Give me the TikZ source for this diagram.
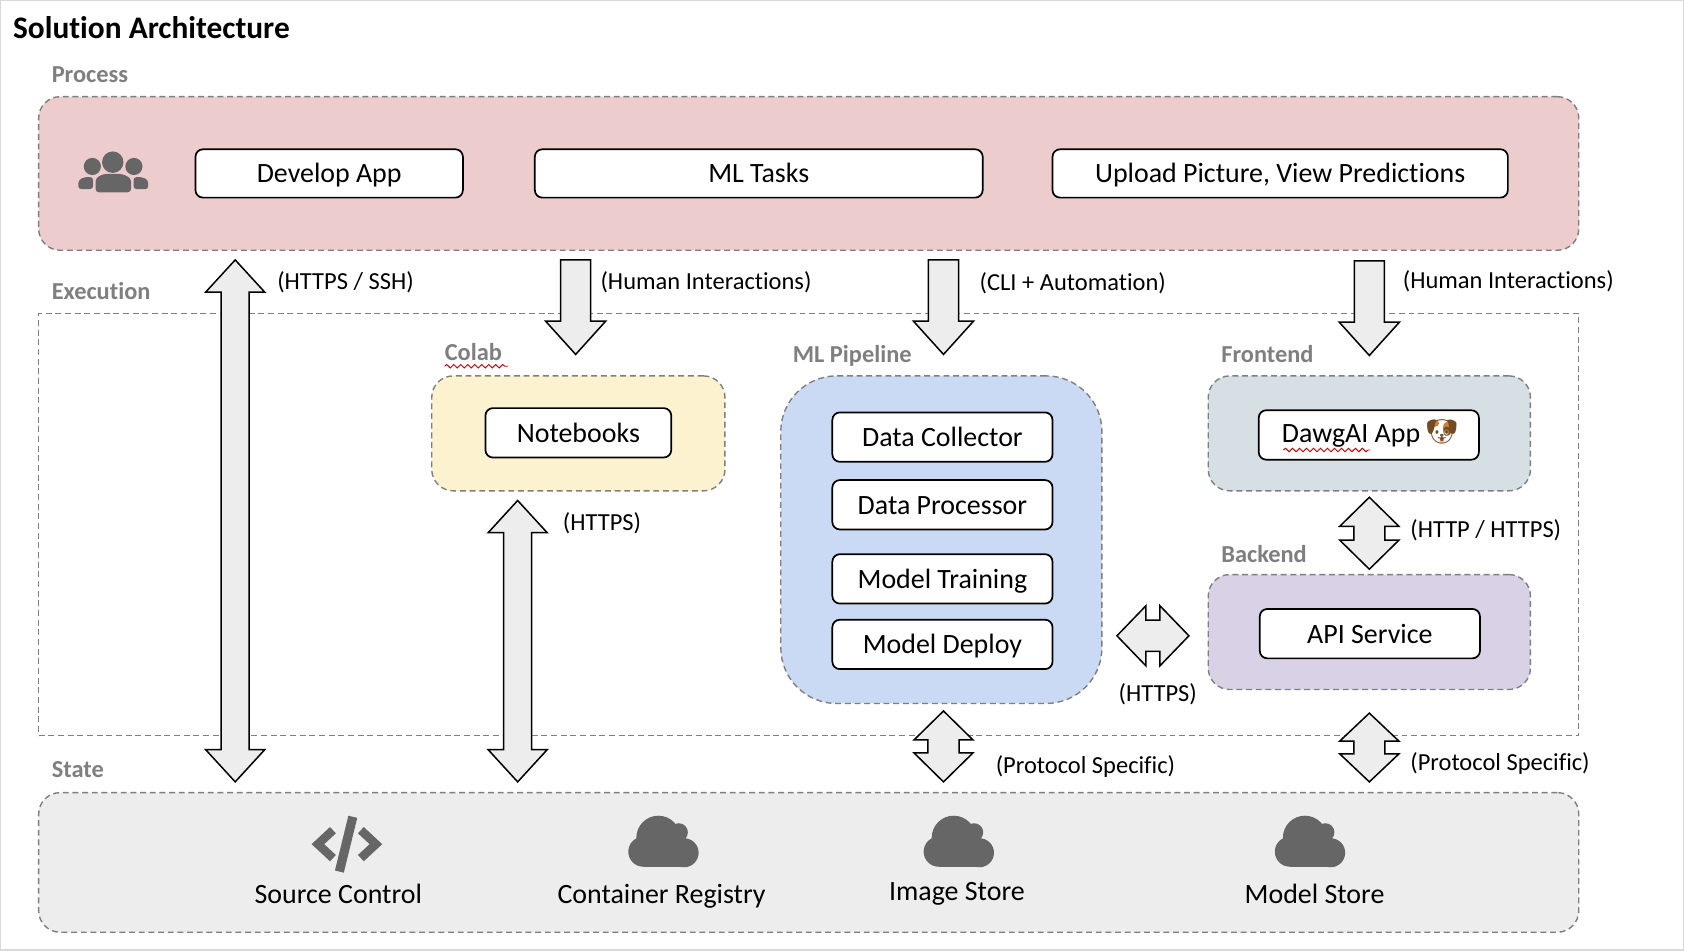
\documentclass[tikz,border=0pt]{standalone}
\usepackage{fontspec}
\setmainfont[Ligatures=NoCommon]{Carlito}
\newfontfamily\emojifont{Noto Emoji}
\usetikzlibrary{calc,decorations.pathmorphing}
\definecolor{dashgray}{HTML}{7F7F7F}
\definecolor{icongray}{HTML}{666666}
\definecolor{arrowfill}{HTML}{EDEDED}
\definecolor{procfill}{HTML}{EDCCCE}
\definecolor{colabfill}{HTML}{FDF2D0}
\definecolor{mlfill}{HTML}{CBDAF4}
\definecolor{frontfill}{HTML}{D5DFE4}
\definecolor{backfill}{HTML}{D9D2E7}
\definecolor{statefill}{HTML}{EDEDED}
\newcommand{\fs}[1]{\fontsize{#1}{#1}\selectfont}
\tikzset{
  zone/.style={draw=dashgray,line width=1.3pt,dash pattern=on 5.5pt off 3.5pt,rounded corners=20pt,inner sep=0pt,outer sep=0pt},
  taskbox/.style={draw=black,fill=white,line width=1.6pt,rounded corners=7pt,inner sep=0pt,outer sep=0pt,font=\fs{26},text height=22.8pt,text depth=5.2pt},
  seclabel/.style={anchor=west,inner sep=0pt,text=dashgray,font=\fs{22.7}\bfseries,text height=20pt,text depth=4.5pt},
  linklabel/.style={anchor=west,inner sep=0pt,font=\fs{22.8},text height=20pt,text depth=4.5pt},
  statelabel/.style={inner sep=0pt,font=\fs{26},text height=22.3pt,text depth=5.2pt},
  blockarrow/.style={draw=black,fill=arrowfill,line width=1.4pt,line join=miter},
  squiggle/.style={draw=red!80!black,line width=0.9pt,decorate,decoration={snake,amplitude=1.6pt,segment length=6.5pt}},
  cloudicon/.pic={
    \fill[icongray] (-19,9) circle[radius=14] (19,10) circle[radius=13.5] (-5,-4) circle[radius=20.5] (14,-9) circle[radius=8.5];
    \fill[icongray] (-19,0) rectangle (19,23);
    \fill[icongray] (-10,-4) rectangle (14,10);
  }
}
% double block arrow between named coordinates: a, b, head half width, shaft half width, head length
\newcommand{\dblarrow}[5]{%
  \coordinate (#1h) at ($(#1)!#5pt!(#2)$);
  \coordinate (#2h) at ($(#2)!#5pt!(#1)$);
  \draw[blockarrow] (#1)
    -- ($(#1h)!#3pt!90:(#2)$) -- ($(#1h)!#4pt!90:(#2)$)
    -- ($(#2h)!#4pt!-90:(#1)$) -- ($(#2h)!#3pt!-90:(#1)$)
    -- (#2)
    -- ($(#2h)!#3pt!90:(#1)$) -- ($(#2h)!#4pt!90:(#1)$)
    -- ($(#1h)!#4pt!-90:(#2)$) -- ($(#1h)!#3pt!-90:(#2)$)
    -- cycle;
}
% single block arrow from a to tip b
\newcommand{\onearrow}[5]{%
  \coordinate (#2h) at ($(#2)!#5pt!(#1)$);
  \draw[blockarrow] ($(#1)!#4pt!90:(#2)$)
    -- ($(#2h)!#4pt!-90:(#1)$) -- ($(#2h)!#3pt!-90:(#1)$)
    -- (#2)
    -- ($(#2h)!#3pt!90:(#1)$) -- ($(#2h)!#4pt!90:(#1)$)
    -- ($(#1)!#4pt!-90:(#2)$)
    -- cycle;
}
\begin{document}
\begin{tikzpicture}[x=1pt,y=-1pt]
\useasboundingbox (0,0) rectangle (1568,884.6);
\fill[white] (0,0) rectangle (1568,884.6);
\draw[color=black!15,line width=2pt] (0,0) rectangle (1568,884.6);

% title and section labels
\node[anchor=west,inner sep=0pt,font=\fs{29.2}\bfseries] (title) at (12,26) {Solution Architecture};
\node[seclabel] (lproc) at (48,69) {Process};
\node[seclabel] (lexec) at (48,271) {Execution};
\node[seclabel] (lcolab) at (414,328) {Colab};
\node[seclabel] (lml) at (738,330) {ML Pipeline};
\node[seclabel] (lfront) at (1137,330) {Frontend};
\node[seclabel] (lback) at (1137,516) {Backend};
\node[seclabel] (lstate) at (48,716) {State};
\draw[squiggle] (414,341) -- (473,341);

% zones
\node[zone,fill=procfill,minimum width=1434pt,minimum height=143pt] (process) at (753,161.5) {};
\node[zone,rounded corners=0pt,minimum width=1434pt,minimum height=393pt] (execution) at (753,488.5) {};
\node[zone,fill=colabfill,minimum width=273pt,minimum height=107pt] (colab) at (538.5,403.5) {};
\node[zone,fill=mlfill,rounded corners=52pt,minimum width=299pt,minimum height=305pt] (mlpipe) at (876.5,502.5) {};
\node[zone,fill=frontfill,minimum width=300pt,minimum height=107pt] (frontend) at (1275,403.5) {};
\node[zone,fill=backfill,minimum width=300pt,minimum height=107pt] (backend) at (1275,588.5) {};
\node[zone,fill=statefill,minimum width=1434pt,minimum height=130pt] (state) at (753,803) {};

% people icon
\fill[icongray] (105,151) circle[radius=10] (86,155) circle[radius=8] (124.7,155) circle[radius=8];
\fill[icongray,rounded corners=3pt] (89,179) -- (89,166) -- (96,162) -- (114,162) -- (122,166) -- (122,179) -- cycle;
\fill[icongray,rounded corners=2.5pt] (73,176) -- (73,168) -- (78,165) -- (86.6,165) -- (86.6,176) -- cycle;
\fill[icongray,rounded corners=2.5pt] (138,176) -- (138,168) -- (133,165) -- (124.4,165) -- (124.4,176) -- cycle;

% task boxes
\node[taskbox,minimum width=249pt,minimum height=45pt] (develop) at (306.5,161.5) {Develop App};
\node[taskbox,minimum width=417pt,minimum height=45pt] (mltasks) at (706.5,161.5) {ML Tasks};
\node[taskbox,minimum width=424pt,minimum height=45pt] (upload) at (1192,161.5) {Upload Picture, View Predictions};
\node[taskbox,minimum width=173pt,minimum height=46pt] (notebooks) at (538.5,403) {Notebooks};
\node[taskbox,minimum width=205pt,minimum height=46pt] (collector) at (877.5,407) {Data Collector};
\node[taskbox,minimum width=205pt,minimum height=46pt] (processor) at (877.5,470) {Data Processor};
\node[taskbox,minimum width=205pt,minimum height=46pt] (training) at (877.5,539) {Model Training};
\node[taskbox,minimum width=205pt,minimum height=46pt] (deploy) at (877.5,600) {Model Deploy};
\node[taskbox,minimum width=205pt,minimum height=46pt] (dawg) at (1274.5,405) {\hspace*{-33pt}\raisebox{2pt}{DawgAI App}};
\node[taskbox,minimum width=205pt,minimum height=46pt] (api) at (1275.5,590) {API Service};
\draw[squiggle] (1195,419) -- (1276,419);

% dog emoji
\fill[white] (1342.5,402) ellipse[x radius=10,y radius=10];
\fill[brown!75!orange] (1335.5,394) ellipse[x radius=4.5,y radius=3.5];
\fill[brown!75!orange] (1349,398) ellipse[x radius=5.5,y radius=5.5];
\fill[pink] (1342.5,410.5) circle[radius=2.3];
\node[inner sep=0pt,text=brown!60!black,font=\emojifont\fs{23.5}] (dog) at (1342.5,402) {🐶};

% block arrows
\coordinate (a1) at (219,242); \coordinate (b1) at (219,728);
\dblarrow{a1}{b1}{27.5}{13}{30}
\coordinate (a2) at (536,242); \coordinate (b2) at (536,330);
\onearrow{a2}{b2}{28}{14}{31}
\coordinate (a3) at (878.5,242); \coordinate (b3) at (878.5,330);
\onearrow{a3}{b3}{28}{14}{31}
\coordinate (a4) at (1275,243); \coordinate (b4) at (1275,331);
\onearrow{a4}{b4}{28}{14}{31}
\coordinate (a5) at (482,466); \coordinate (b5) at (482,728);
\dblarrow{a5}{b5}{27.5}{13}{30}
\coordinate (a6) at (878.5,662); \coordinate (b6) at (878.5,728);
\dblarrow{a6}{b6}{27.5}{14.5}{27}
\coordinate (a7) at (1275,664); \coordinate (b7) at (1275,728);
\dblarrow{a7}{b7}{27.5}{14.5}{26}
\coordinate (a8) at (1275,463); \coordinate (b8) at (1275,530);
\dblarrow{a8}{b8}{27.5}{14.5}{27}
\coordinate (a9) at (1040,592); \coordinate (b9) at (1107,592);
\dblarrow{a9}{b9}{28}{14.5}{27}

% link labels
\node[linklabel] (t1) at (258,262) {(HTTPS / SSH)};
\node[linklabel] (t2) at (559,262) {(Human Interactions)};
\node[linklabel] (t3) at (912,263) {(CLI + Automation)};
\node[linklabel] (t4) at (1306,261) {(Human Interactions)};
\node[linklabel] (t5) at (524,486) {(HTTPS)};
\node[linklabel] (t6) at (1313,493) {(HTTP / HTTPS)};
\node[linklabel,anchor=center] (t7) at (1078,645) {(HTTPS)};
\node[linklabel] (t8) at (927,712) {(Protocol Specific)};
\node[linklabel] (t9) at (1313,710) {(Protocol Specific)};

% state items
\draw[icongray,line width=8pt,line join=miter] (310,773) -- (296,786) -- (310,799);
\draw[icongray,line width=8pt,line join=miter] (336,773) -- (350,786) -- (336,799);
\draw[icongray,line width=8.5pt] (328.5,760.5) -- (316,811.5);
\pic at (618,784) {cloudicon};
\pic at (893,784) {cloudicon};
\pic at (1220,784) {cloudicon};
\node[statelabel] (s1) at (315,833) {Source Control};
\node[statelabel] (s2) at (616,833) {Container Registry};
\node[statelabel] (s3) at (891,830) {Image Store};
\node[statelabel] (s4) at (1224,833) {Model Store};
\end{tikzpicture}
\end{document}
